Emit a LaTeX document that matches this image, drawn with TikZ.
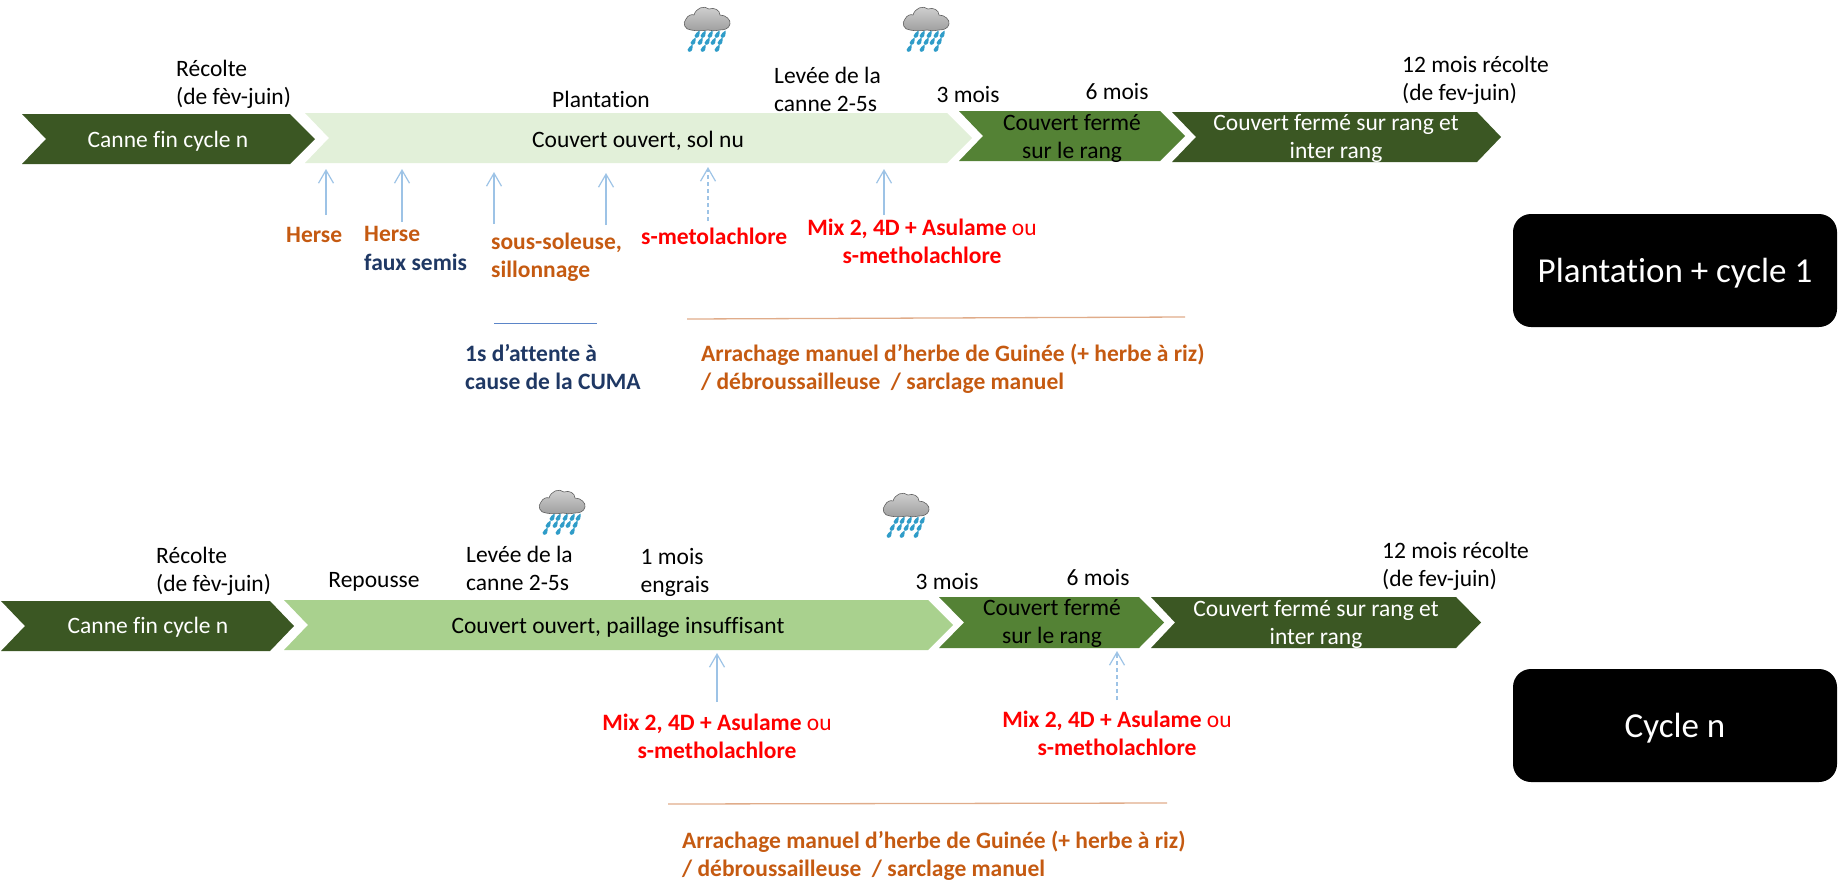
\documentclass[tikz,border=0pt]{standalone}
\usepackage{fontspec}
\setmainfont{Carlito}[Ligatures=NoCommon]
\usetikzlibrary{arrows.meta}
\definecolor{cDark}{HTML}{3B5723}
\definecolor{cMid}{HTML}{548235}
\definecolor{cPale}{HTML}{E2F0D9}
\definecolor{cLight}{HTML}{A9D18E}
\definecolor{cOrange}{HTML}{C55A11}
\definecolor{cNavy}{HTML}{1F3864}
\definecolor{cArrow}{HTML}{9DC3E6}
\definecolor{cRule}{HTML}{E0AC8A}
\definecolor{cBlueRule}{HTML}{5B85C8}
\definecolor{cDrop}{HTML}{2F9CC8}
\newcommand{\chev}[7]{\fill[#7] (#1,#5) -- (#3,#5) -- (#4,{(#5+#6)/2}) -- (#3,#6) -- (#1,#6) -- (#2,{(#5+#6)/2}) -- cycle;}
\newcommand{\mainfs}{\fontsize{23.5}{28}\selectfont}
\tikzset{
  x=1pt,y=-1pt,
  lbl/.style={inner sep=0pt,align=left,anchor=west,font=\mainfs},
  ctr/.style={inner sep=0pt,align=center,anchor=center,font=\mainfs},
  onDark/.style={text=white},
  hOrange/.style={text=cOrange,font=\mainfs\bfseries},
  hNavy/.style={text=cNavy,font=\mainfs\bfseries},
  hRed/.style={text=red,font=\mainfs},
  solidArrow/.style={draw=cArrow,line width=1.2pt,-{Straight Barb[length=13pt,width=15pt,line width=1.2pt]}},
  dashArrow/.style={solidArrow,dash pattern=on 4pt off 3pt},
  orangeRule/.style={draw=cRule,line width=1.3pt},
  blueRule/.style={draw=cBlueRule,line width=1pt},
  blackBox/.style={fill=black,rounded corners=18pt,minimum width=324pt,minimum height=113pt,inner sep=0pt},
  boxText/.style={text=white,inner sep=0pt,font=\fontsize{35}{38}\selectfont},
  pics/raincloud/.style={code={
    \path[draw=gray!75!black,line width=.6pt,top color=gray!35,bottom color=gray!75]
      (7,24) .. controls (1,24) and (-2,17) .. (2,13)
      .. controls (4,9) and (8,8) .. (10,9)
      .. controls (12,2) and (20,-1) .. (25,3)
      .. controls (30,1) and (36,4) .. (36,9)
      .. controls (42,9) and (47,14) .. (46,18)
      .. controls (45,23) and (40,24) .. (36,24)
      .. controls (30,25) and (28,25) .. (24,24)
      .. controls (18,25) and (12,25) .. (7,24) -- cycle;
    \foreach \dx/\dy in {13/29,19/29,26/29,33/29,39/29,9/36,16/36,23/36,29/36,36/36,6/43,19/43,33/43}{
      \fill[cDrop] (\dx+2.6,\dy-4.5) .. controls (\dx+2.6,\dy-1) and (\dx+2.8,\dy+2.6) .. (\dx-.5,\dy+2.8)
        .. controls (\dx-3.6,\dy+2.6) and (\dx-3.2,\dy-.8) .. (\dx+2.6,\dy-4.5) -- cycle;
    }
  }}
}
\begin{document}
\begin{tikzpicture}
\useasboundingbox (0,0) rectangle (1838,884);
% --- top timeline
\chev{22}{46}{290}{315}{114}{164}{cDark}
\chev{305}{329}{947}{972}{113}{163}{cPale}
\chev{959}{983}{1160}{1185}{111}{161}{cMid}
\chev{1172}{1196}{1477}{1501}{112}{162}{cDark}
\node[ctr,onDark] (tBarA) at (168,141.5) {Canne fin cycle n};
\node[ctr] (tBarB) at (638,141) {Couvert ouvert, sol nu};
\node[ctr] (tBarC) at (1072,138) {Couvert fermé\\sur le rang};
\node[ctr,onDark] (tBarD) at (1336,138) {Couvert fermé sur rang et\\inter rang};
\node[lbl] (tRec) at (176,84) {Récolte\\(de fèv-juin)};
\node[ctr] (tPlant) at (601,99) {Plantation};
\node[lbl] (tLev) at (774,89.5) {Levée de la\\canne 2-5s};
\node[ctr] (tM3) at (968,94) {3 mois};
\node[ctr] (tM6) at (1117,91) {6 mois};
\node[lbl] (tM12) at (1402,80) {12 mois récolte\\(de fev-juin)};
\pic (tCloudA) at (684,6) {raincloud};
\pic (tCloudB) at (903,6) {raincloud};
% top actions
\node[lbl,hOrange] (tH1) at (286,235) {Herse};
\node[lbl,hOrange] (tH2) at (364,234) {Herse};
\node[lbl,hNavy] (tFaux) at (364,262) {faux semis};
\node[lbl,hOrange] (tSous) at (491,257) {sous-soleuse,\\sillonnage};
\node[lbl,hRed] (tMeto) at (641,236) {\textbf{s-metolachlore}};
\node[ctr,hRed] (tMix) at (922,241.5) {\textbf{Mix 2, 4D + Asulame} ou\\\textbf{s-metholachlore}};
\node[lbl,hNavy] (tAtt) at (465,367) {1s d’attente à\\cause de la CUMA};
\node[lbl,hOrange] (tArr) at (701,369) {Arrachage manuel d’herbe de Guinée (+ herbe à riz)\\/ débroussailleuse~ / sarclage manuel};
\coordinate (a1s) at (326,215); \coordinate (a1e) at (326,169);
\coordinate (a2s) at (402,222); \coordinate (a2e) at (402,169);
\coordinate (a3s) at (494,224); \coordinate (a3e) at (494,172);
\coordinate (a4s) at (606,225); \coordinate (a4e) at (606,173);
\coordinate (a5s) at (708,221); \coordinate (a5e) at (708,167);
\coordinate (a6s) at (884,215); \coordinate (a6e) at (884,169);
\draw[solidArrow] (a1s) -- (a1e);
\draw[solidArrow] (a2s) -- (a2e);
\draw[solidArrow] (a3s) -- (a3e);
\draw[solidArrow] (a4s) -- (a4e);
\draw[dashArrow] (a5s) -- (a5e);
\draw[solidArrow] (a6s) -- (a6e);
\coordinate (r1s) at (494,323); \coordinate (r1e) at (597,323);
\coordinate (r2s) at (687,319); \coordinate (r2e) at (1185,317);
\draw[blueRule] (r1s) -- (r1e);
\draw[orangeRule] (r2s) -- (r2e);
\node[blackBox] (boxA) at (1675,270.5) {};
\node[boxText] (boxAt) at (1675,273) {Plantation + cycle 1};
% --- bottom timeline
\chev{1}{25}{270}{294}{601}{651}{cDark}
\chev{284}{308}{928}{953}{600}{650}{cLight}
\chev{939}{964}{1139}{1164}{597}{648}{cMid}
\chev{1151}{1175}{1456}{1481}{597}{648}{cDark}
\node[ctr,onDark] (bBarA) at (148,627) {Canne fin cycle n};
\node[ctr] (bBarB) at (618,627) {Couvert ouvert, paillage insuffisant};
\node[ctr] (bBarC) at (1052,623.5) {Couvert fermé\\sur le rang};
\node[ctr,onDark] (bBarD) at (1316,624.5) {Couvert fermé sur rang et\\inter rang};
\node[lbl] (bRec) at (156,571) {Récolte\\(de fèv-juin)};
\node[ctr] (bRep) at (374,582) {Repousse};
\node[lbl] (bLev) at (466,568.5) {Levée de la\\canne 2-5s};
\node[lbl] (bEng) at (640.5,572) {1 mois\\engrais};
\node[ctr] (bM3) at (947,581) {3 mois};
\node[ctr] (bM6) at (1098,577) {6 mois};
\node[lbl] (bM12) at (1382,566.5) {12 mois récolte\\(de fev-juin)};
\pic (bCloudA) at (539,489) {raincloud};
\pic (bCloudB) at (883,492) {raincloud};
\node[ctr,hRed] (bMixA) at (717,736) {\textbf{Mix 2, 4D + Asulame} ou\\\textbf{s-metholachlore}};
\node[ctr,hRed] (bMixB) at (1117,733.5) {\textbf{Mix 2, 4D + Asulame} ou\\\textbf{s-metholachlore}};
\node[lbl,hOrange] (bArr) at (682,855.5) {Arrachage manuel d’herbe de Guinée (+ herbe à riz)\\/ débroussailleuse~ / sarclage manuel};
\coordinate (b1s) at (717,702); \coordinate (b1e) at (717,653);
\coordinate (b2s) at (1117,700); \coordinate (b2e) at (1117,651);
\draw[solidArrow] (b1s) -- (b1e);
\draw[dashArrow] (b2s) -- (b2e);
\coordinate (r3s) at (668,804); \coordinate (r3e) at (1167,803);
\draw[orangeRule] (r3s) -- (r3e);
\node[blackBox] (boxB) at (1675,725.5) {};
\node[boxText] (boxBt) at (1675,728.5) {Cycle n};
\end{tikzpicture}
\end{document}
